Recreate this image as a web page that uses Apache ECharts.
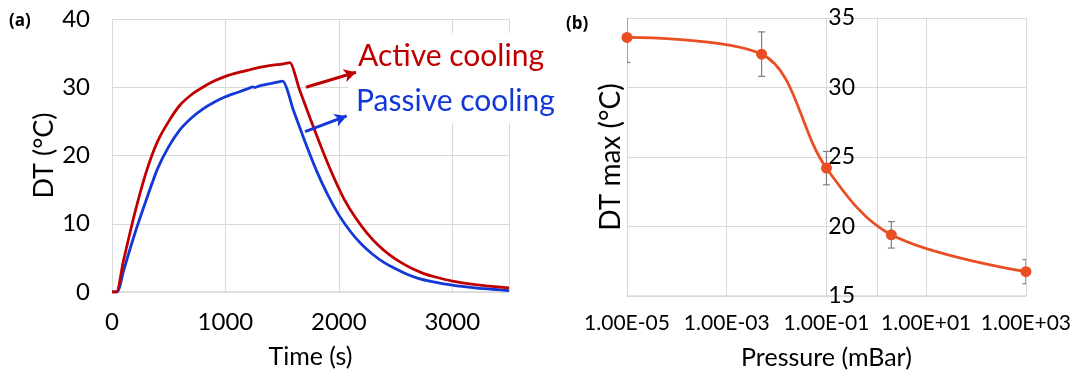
<!DOCTYPE html>
<html><head><meta charset="utf-8">
<script src="https://cdn.jsdelivr.net/npm/echarts@6/dist/echarts.min.js"></script>
<style>html,body{margin:0;padding:0;background:#fff}#c{width:1074px;height:376px}</style>
</head><body><div id="c"></div>
<script>
// ---- Panel (a): temperature rise vs time ----
const activeTime = [0, 40, 100, 200, 300, 400, 500, 600, 700, 800, 900, 1000, 1100, 1200, 1300, 1400, 1500, 1568, 1650, 1750, 1850, 1950, 2050, 2150, 2250, 2350, 2450, 2550, 2650, 2750, 2850, 3000, 3150, 3300, 3500];
const activeDT   = [0, 0, 4.5, 11.5, 17.5, 22, 25, 27.4, 28.9, 30.0, 30.9, 31.6, 32.1, 32.5, 32.9, 33.2, 33.4, 33.6, 29.8, 25.3, 21, 17, 13.5, 10.8, 8.6, 6.8, 5.4, 4.3, 3.4, 2.7, 2.2, 1.6, 1.2, 0.9, 0.6];
const passiveTime = [0, 50, 100, 200, 300, 400, 500, 600, 700, 800, 900, 1000, 1100, 1200, 1240, 1260, 1300, 1400, 1504, 1600, 1700, 1800, 1900, 2000, 2100, 2200, 2300, 2400, 2500, 2600, 2700, 2800, 3000, 3200, 3350, 3500];
const passiveDT   = [0, 0, 3, 8.5, 13.4, 18, 21.3, 23.8, 25.5, 26.8, 27.8, 28.6, 29.2, 29.8, 30.05, 29.95, 30.2, 30.55, 30.9, 26.6, 22.1, 17.9, 14.3, 11.3, 8.9, 7.0, 5.5, 4.3, 3.4, 2.6, 2.0, 1.6, 1.0, 0.6, 0.4, 0.2];
const timeTicks = [0, 1000, 2000, 3000];
const dtTicks = [0, 10, 20, 30, 40];

// ---- Panel (b): max temperature rise vs pressure ----
const pressure = [1e-5, 5e-3, 0.1, 2, 1000];      // mBar
const dtMax    = [33.6, 32.4, 24.2, 19.4, 16.75];  // °C
const dtErr    = [1.8, 1.6, 1.2, 0.95, 0.87];      // ± °C
const pressureTickLabels = ['1.00E-05', '1.00E-03', '1.00E-01', '1.00E+01', '1.00E+03'];
const dtMaxTicks = [15, 20, 25, 30, 35];

const FONT = 'Lato, "Open Sans", sans-serif';
const GRID = '#d9d9d9';
const RED = '#c00000';
const BLUE = '#1238d8';
const ORANGE = '#e94e24';

const zip = (a, b) => a.map((v, i) => [v, b[i]]);
const logP = pressure.map(p => Math.log10(p));
const PMIN = Math.log10(1e-5), PMAX = Math.log10(1e3);
const G2W = 400;
// vertical axis of panel (b) crosses the horizontal axis at 1 mBar (log10 = 0)
const crossOffset = -G2W * (0 - PMIN) / (PMAX - PMIN);

const chart = echarts.init(document.getElementById('c'), null, {renderer: 'canvas'});
const option = {
  animation: false,
  backgroundColor: '#fff',
  grid: [
    {left: 112, top: 19, width: 397, height: 273},
    {left: 627, top: 18, width: G2W, height: 278}
  ],
  xAxis: [
    {
      gridIndex: 0, type: 'value',
      min: timeTicks[0], max: 3500, interval: timeTicks[1] - timeTicks[0],
      axisLine: {lineStyle: {color: GRID, width: 1.5}},
      axisTick: {show: false},
      axisLabel: {fontFamily: FONT, fontSize: 24, color: '#000', margin: 18, showMaxLabel: false,
        formatter: v => String(v)},
      splitLine: {lineStyle: {color: GRID, width: 1}},
      name: 'Time (s)', nameLocation: 'middle', nameGap: 52,
      nameTextStyle: {fontFamily: FONT, fontSize: 25, color: '#000'}
    },
    {
      gridIndex: 1, type: 'value',
      min: PMIN, max: PMAX, interval: 2,
      axisLine: {onZero: false, lineStyle: {color: GRID, width: 1.5}},
      axisTick: {show: false},
      axisLabel: {fontFamily: FONT, fontSize: 21, color: '#000', margin: 17,
        formatter: v => pressureTickLabels[Math.round((v - PMIN) / 2)]},
      splitLine: {lineStyle: {color: GRID, width: 1}},
      name: 'Pressure (mBar)', nameLocation: 'middle', nameGap: 49,
      nameTextStyle: {fontFamily: FONT, fontSize: 25, color: '#000'}
    }
  ],
  yAxis: [
    {
      gridIndex: 0, type: 'value',
      min: dtTicks[0], max: dtTicks[dtTicks.length - 1], interval: dtTicks[1] - dtTicks[0],
      axisLine: {show: false}, axisTick: {show: false},
      axisLabel: {fontFamily: FONT, fontSize: 24, color: '#000', margin: 22},
      splitLine: {lineStyle: {color: GRID, width: 1}},
      name: 'DT (°C)', nameLocation: 'middle', nameGap: 53, nameRotate: 90,
      nameTextStyle: {fontFamily: FONT, fontSize: 27, color: '#000'}
    },
    {
      gridIndex: 1, type: 'value', offset: crossOffset,
      min: dtMaxTicks[0], max: dtMaxTicks[dtMaxTicks.length - 1], interval: dtMaxTicks[1] - dtMaxTicks[0],
      axisLine: {show: true, onZero: false, lineStyle: {color: GRID, width: 1}},
      axisTick: {show: false},
      axisLabel: {fontFamily: FONT, fontSize: 23, color: '#000', margin: 22},
      splitLine: {lineStyle: {color: GRID, width: 1}},
      name: 'DT max (°C)', nameLocation: 'middle', nameGap: 252, nameRotate: 90,
      nameTextStyle: {fontFamily: FONT, fontSize: 28, color: '#000'}
    }
  ],
  graphic: [
    {type: 'rect', z: 1, shape: {x: 348, y: 33, width: 215, height: 90}, style: {fill: '#fff'}},
    {type: 'text', z: 10, left: 358, top: 41,
      style: {text: 'Active cooling', fill: RED, font: '30px ' + FONT}},
    {type: 'text', z: 10, left: 356, top: 86,
      style: {text: 'Passive cooling', fill: BLUE, font: '30px ' + FONT}},
    {type: 'text', z: 10, left: 9, top: 13,
      style: {text: '(a)', fill: '#000', font: 'bold 17px "Open Sans", sans-serif'}},
    {type: 'text', z: 10, left: 566, top: 16,
      style: {text: '(b)', fill: '#000', font: 'bold 17px "Open Sans", sans-serif'}}
  ],
  series: [
    {
      type: 'line', xAxisIndex: 0, yAxisIndex: 0, name: 'Passive cooling',
      data: zip(passiveTime, passiveDT), showSymbol: false, smooth: 0.2,
      lineStyle: {color: BLUE, width: 2.8}, z: 3,
      markLine: {
        silent: true, symbol: ['none', 'arrow'], symbolSize: [10, 12],
        label: {show: false}, lineStyle: {color: BLUE, width: 3, type: 'solid'},
        data: [[{coord: [1702, 23.5]}, {coord: [2069, 25.8]}]]
      }
    },
    {
      type: 'line', xAxisIndex: 0, yAxisIndex: 0, name: 'Active cooling',
      data: zip(activeTime, activeDT), showSymbol: false, smooth: 0.2,
      lineStyle: {color: RED, width: 2.8}, z: 4,
      markLine: {
        silent: true, symbol: ['none', 'arrow'], symbolSize: [10, 12],
        label: {show: false}, lineStyle: {color: RED, width: 3, type: 'solid'},
        data: [[{coord: [1710, 30.0]}, {coord: [2151, 32.2]}]]
      }
    },
    {
      type: 'custom', xAxisIndex: 1, yAxisIndex: 1, z: 3, clip: true,
      data: logP.map((x, i) => [x, dtMax[i], dtErr[i]]),
      renderItem: (params, api) => {
        const x = api.value(0), y = api.value(1), e = api.value(2);
        const top = api.coord([x, y + e]);
        const bot = api.coord([x, y - e]);
        const w = 3.5;
        const st = {stroke: '#7f7f7f', lineWidth: 1.2};
        return {type: 'group', children: [
          {type: 'line', shape: {x1: top[0], y1: top[1], x2: bot[0], y2: bot[1]}, style: st},
          {type: 'line', shape: {x1: top[0] - w, y1: top[1], x2: top[0] + w, y2: top[1]}, style: st},
          {type: 'line', shape: {x1: bot[0] - w, y1: bot[1], x2: bot[0] + w, y2: bot[1]}, style: st}
        ]};
      }
    },
    {
      type: 'line', xAxisIndex: 1, yAxisIndex: 1, name: 'DT max',
      data: zip(logP, dtMax), smooth: 0.35, symbol: 'circle', symbolSize: 11,
      itemStyle: {color: ORANGE}, lineStyle: {color: ORANGE, width: 2.8}, z: 5
    }
  ]
};
chart.setOption(option);
</script>
</body></html>
